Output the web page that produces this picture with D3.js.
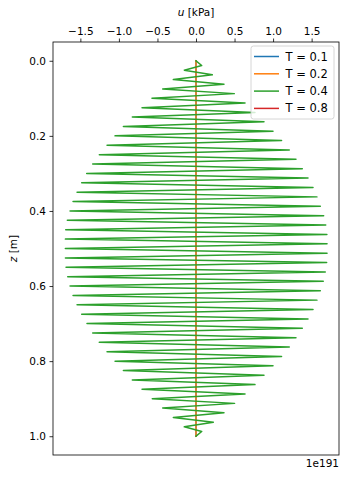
<!DOCTYPE html>
<html>
<head>
<meta charset="utf-8">
<script src="https://cdn.jsdelivr.net/npm/d3@7"></script>
<style>
  body { margin: 0; background: #fff; }
  text { font-family: "DejaVu Sans", sans-serif; fill: #000; }
</style>
</head>
<body>
<svg></svg>
<script>
// depth grid z [m] (81 nodes)
var zGrid = [
  0.0, 0.0125, 0.025, 0.0375, 0.05, 0.0625, 0.075, 0.0875, 0.1, 0.1125,
  0.125, 0.1375, 0.15, 0.1625, 0.175, 0.1875, 0.2, 0.2125, 0.225, 0.2375,
  0.25, 0.2625, 0.275, 0.2875, 0.3, 0.3125, 0.325, 0.3375, 0.35, 0.3625,
  0.375, 0.3875, 0.4, 0.4125, 0.425, 0.4375, 0.45, 0.4625, 0.475, 0.4875,
  0.5, 0.5125, 0.525, 0.5375, 0.55, 0.5625, 0.575, 0.5875, 0.6, 0.6125,
  0.625, 0.6375, 0.65, 0.6625, 0.675, 0.6875, 0.7, 0.7125, 0.725, 0.7375,
  0.75, 0.7625, 0.775, 0.7875, 0.8, 0.8125, 0.825, 0.8375, 0.85, 0.8625,
  0.875, 0.8875, 0.9, 0.9125, 0.925, 0.9375, 0.95, 0.9625, 0.975, 0.9875,
  1.0
];

// u values, in units of 1e191 kPa
var uT01 = [
  0,0,0,0,0,0,0,0,0,0, 0,0,0,0,0,0,0,0,0,0, 0,0,0,0,0,0,0,0,0,0,
  0,0,0,0,0,0,0,0,0,0, 0,0,0,0,0,0,0,0,0,0, 0,0,0,0,0,0,0,0,0,0,
  0,0,0,0,0,0,0,0,0,0, 0,0,0,0,0,0,0,0,0,0, 0
];
var uT02 = [
  0,0,0,0,0,0,0,0,0,0, 0,0,0,0,0,0,0,0,0,0, 0,0,0,0,0,0,0,0,0,0,
  0,0,0,0,0,0,0,0,0,0, 0,0,0,0,0,0,0,0,0,0, 0,0,0,0,0,0,0,0,0,0,
  0,0,0,0,0,0,0,0,0,0, 0,0,0,0,0,0,0,0,0,0, 0
];
var uT04 = [
  0, 0.074, -0.152, 0.212, -0.294, 0.363, -0.432, 0.497, -0.571, 0.636,
  -0.700, 0.765, -0.826, 0.882, -0.942, 0.999, -1.050, 1.110, -1.154, 1.210,
  -1.254, 1.297, -1.340, 1.379, -1.418, 1.453, -1.483, 1.518, -1.543, 1.569,
  -1.595, 1.613, -1.634, 1.656, -1.669, 1.683, -1.690, 1.698, -1.694, 1.700,
  -1.695, 1.700, -1.694, 1.695, -1.686, 1.677, -1.664, 1.651, -1.634, 1.613,
  -1.595, 1.569, -1.543, 1.518, -1.483, 1.453, -1.414, 1.379, -1.340, 1.297,
  -1.254, 1.210, -1.154, 1.110, -1.050, 0.999, -0.942, 0.882, -0.826, 0.765,
  -0.700, 0.636, -0.567, 0.500, -0.432, 0.363, -0.294, 0.225, -0.152, 0.074,
  0
];
var uT08 = null; // overflowed (nan) -> nothing drawn

var seriesNames = ["T = 0.1", "T = 0.2", "T = 0.4", "T = 0.8"];
var seriesColors = ["#1f77b4", "#ff7f0e", "#2ca02c", "#d62728"];
var seriesValues = [uT01, uT02, uT04, uT08];

var xTicks = [-1.5, -1.0, -0.5, 0.0, 0.5, 1.0, 1.5];
var yTicks = [0.0, 0.2, 0.4, 0.6, 0.8, 1.0];
var offsetLabel = "1e191";

var svgWidth = 363;
var svgHeight = 479;
var margin = { top: 42, right: 24, bottom: 24, left: 53 };
var width = svgWidth - margin.left - margin.right;
var height = svgHeight - margin.top - margin.bottom;

var svg = d3.select("svg")
    .attr("width", svgWidth)
    .attr("height", svgHeight);

var chartGroup = svg.append("g")
    .attr("transform", `translate(${margin.left},${margin.top})`);

// scales (matplotlib style 5% padding)
var xScale = d3.scaleLinear()
    .domain([-1.855, 1.855])
    .range([0, width]);

var yScale = d3.scaleLinear()
    .domain([-0.05, 1.05])
    .range([0, height]);

var fmt = function(d) { return d3.format(".1f")(d).replace("-", "\u2212"); };

// clip so lines stay in the axes box
chartGroup.append("clipPath").attr("id", "clip")
  .append("rect").attr("width", width).attr("height", height);

// lines
var line = d3.line()
    .defined(d => d[1] != null && !isNaN(d[1]))
    .x(d => xScale(d[1]))
    .y(d => yScale(d[0]));

seriesValues.forEach(function(vals, i) {
  if (!vals) return;
  chartGroup.append("path")
      .datum(zGrid.map((z, k) => [z, vals[k]]))
      .attr("clip-path", "url(#clip)")
      .attr("fill", "none")
      .attr("stroke", seriesColors[i])
      .attr("stroke-width", 1.5)
      .attr("stroke-linejoin", "round")
      .attr("stroke-linecap", "square")
      .attr("d", line);
});

// axes
var topAxis = d3.axisTop(xScale).tickValues(xTicks).tickFormat(fmt)
    .tickSizeInner(3.5).tickSizeOuter(0).tickPadding(3.5);
var leftAxis = d3.axisLeft(yScale).tickValues(yTicks).tickFormat(fmt)
    .tickSizeInner(3.5).tickSizeOuter(0).tickPadding(3.5);

var gx = chartGroup.append("g").call(topAxis);
var gy = chartGroup.append("g").call(leftAxis);

[gx, gy].forEach(function(g) {
  g.select(".domain").remove();
  g.selectAll(".tick line").attr("stroke", "#000").attr("stroke-width", 0.8);
  g.selectAll(".tick text")
      .style("font-family", "DejaVu Sans")
      .style("font-size", "10.5px")
      .attr("fill", "#000");
});

// frame
chartGroup.append("rect")
    .attr("width", width)
    .attr("height", height)
    .attr("fill", "none")
    .attr("stroke", "#000")
    .attr("stroke-width", 0.8);

// axis labels
var xLab = svg.append("text")
    .attr("x", margin.left + xScale(0))
    .attr("y", 16)
    .attr("text-anchor", "middle")
    .style("font-size", "10.5px");
xLab.append("tspan").style("font-style", "italic").text("u");
xLab.append("tspan").text(" [kPa]");

var yLab = svg.append("text")
    .attr("transform", `translate(17,${margin.top + height / 2}) rotate(-90)`)
    .attr("text-anchor", "middle")
    .style("font-size", "10.5px");
yLab.append("tspan").style("font-style", "italic").text("z");
yLab.append("tspan").text(" [m]");

// offset text
svg.append("text")
    .attr("x", margin.left + width)
    .attr("y", 467)
    .attr("text-anchor", "end")
    .style("font-size", "10.5px")
    .text(offsetLabel);

// legend
var legend = chartGroup.append("g")
    .attr("transform", `translate(${width - 88},4)`);

legend.append("rect")
    .attr("width", 83)
    .attr("height", 73)
    .attr("rx", 2.5)
    .attr("fill", "#fff")
    .attr("fill-opacity", 0.8)
    .attr("stroke", "#cccccc")
    .attr("stroke-width", 0.8);

seriesNames.forEach(function(name, i) {
  var row = legend.append("g")
      .attr("transform", `translate(0,${10.5 + i * 17.3})`);
  row.append("line")
      .attr("x1", 3).attr("x2", 28)
      .attr("stroke", seriesColors[i])
      .attr("stroke-width", 1.5);
  row.append("text")
      .attr("x", 34.5)
      .attr("dy", "0.35em")
      .style("font-size", "11.5px")
      .text(name);
});
</script>
</body>
</html>
